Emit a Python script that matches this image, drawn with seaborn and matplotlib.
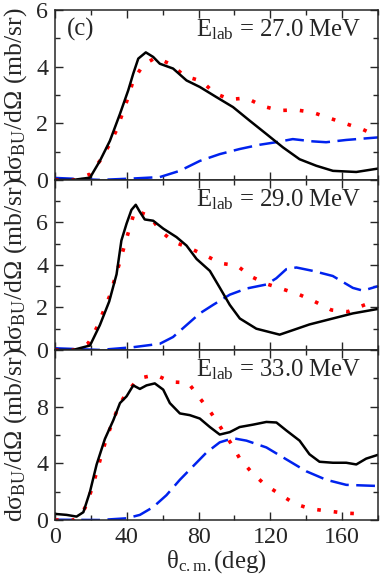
import numpy as np
import pandas as pd
import matplotlib
matplotlib.use('Agg')
import matplotlib.pyplot as plt
import seaborn as sns

# ---- data (theta in deg, cross section in mb/sr) ----
# panel E_lab = 27.0 MeV
x27_full = [0, 10, 19.5, 25, 30.6, 36.2, 40.8, 43.6, 46.4, 50.6, 54.7, 58.4, 65.8, 73.3, 80.7,
            90, 99.2, 108.5, 117.8, 127, 136.3, 145.6, 154.9, 167.9, 180]
y27_full = [0, 0, 0.08, 0.67, 1.38, 2.33, 3.16, 3.75, 4.28, 4.5, 4.34, 4.1, 3.93, 3.51, 3.28,
            2.92, 2.57, 2.09, 1.62, 1.15, 0.73, 0.5, 0.32, 0.28, 0.4]
x27_nocpl = [0, 10.6, 19.5, 25, 30.2, 34.3, 37.5, 40.8, 43.6, 49.1, 56.2, 64.9, 72.3, 81.6,
             89, 97.4, 106.7, 115.9, 125.2, 134.5, 143.7, 153, 162.3, 171.6, 176]
y27_nocpl = [0, 0, 0.2, 0.67, 1.23, 1.76, 2.33, 2.92, 3.51, 4.05, 4.32, 4.07, 3.66, 3.49,
             3.06, 2.84, 2.89, 2.6, 2.45, 2.47, 2.38, 2.18, 1.98, 1.78, 1.65]
x27_nuc = [0, 25, 43.6, 58.4, 69.5, 80.7, 91.8, 102.9, 114, 123.2, 132.5, 143.7, 151.1, 162.3, 180]
y27_nuc = [0.07, 0.0, 0.05, 0.1, 0.32, 0.67, 0.91, 1.09, 1.24, 1.33, 1.44, 1.36, 1.33, 1.41, 1.5]

# panel E_lab = 29.0 MeV
x29_full = [0, 10, 19.5, 25, 30.2, 34.3, 37, 39.9, 42.6, 45, 47.2, 50, 54.7, 60.3, 67.7, 73.3,
            78.9, 86.3, 91.9, 97.4, 103, 112.2, 125.2, 132.5, 141.8, 154.8, 166, 180]
y29_full = [0, 0, 0.21, 1.17, 2.28, 3.56, 5.15, 5.95, 6.59, 6.83, 6.51, 6.14, 6.08, 5.71, 5.31,
            4.91, 4.28, 3.72, 2.92, 2.12, 1.48, 1.0, 0.72, 0.93, 1.2, 1.48, 1.72, 1.93]
x29_nocpl = [0, 10.6, 18.6, 23.2, 26.9, 30.6, 33.4, 36.2, 39, 44.5, 52.9, 58.4, 65.8, 75.1,
             84.4, 92.8, 101.4, 109.4, 117.8, 127, 136.3, 144.7, 154, 163.2, 172.5, 178]
y29_nocpl = [0, 0, 0.32, 1.04, 1.8, 2.57, 3.37, 4.16, 5.0, 6.56, 6.3, 5.63, 5.1, 4.79,
             4.42, 4.07, 3.97, 3.45, 3.11, 2.86, 2.6, 2.28, 1.88, 1.8, 2.12, 2.3]
x29_nuc = [0, 25, 43.6, 58.4, 65.8, 73.3, 80.7, 88.1, 97.4, 106.7, 117.8, 123.3, 128.9, 134.5,
           143.7, 154.8, 166, 171.6, 180]
y29_nuc = [0.08, 0.0, 0.13, 0.29, 0.61, 1.17, 1.72, 2.12, 2.6, 2.89, 3.08, 3.37, 3.8, 3.88,
           3.72, 3.48, 2.92, 2.79, 3.0]

# panel E_lab = 33.0 MeV
x33_full = [0, 6.5, 12, 15.8, 19.5, 23.2, 27.8, 32.5, 36.2, 39.9, 43.6, 47.3, 51, 55.6, 60.3,
            64, 69.6, 75.1, 80.7, 86.3, 91.8, 97.4, 102.9, 110.4, 117.8, 123.4, 128.9, 136.3,
            141.8, 147.4, 154.9, 162.3, 167.9, 173.4, 180]
y33_full = [0.43, 0.36, 0.24, 0.55, 2.0, 3.92, 5.72, 7.04, 8.25, 8.73, 9.5, 9.25, 9.5, 9.64, 9.2,
            8.25, 7.52, 7.4, 7.16, 6.56, 6.03, 6.2, 6.56, 6.73, 6.92, 6.88, 6.32, 5.6,
            4.64, 4.11, 4.04, 4.04, 3.92, 4.33, 4.6]
x33_nocpl = [0, 10.6, 16.7, 20, 22.8, 25.6, 28.4, 31.7, 35.2, 39.9, 46.7, 56, 64.9, 74.2, 80.7,
             87.2, 92.8, 98.3, 102.9, 109.4, 116.9, 125.2, 133.5, 142.3, 152.1, 162.3, 171.6]
y33_nocpl = [0, 0, 0.84, 2.0, 3.2, 4.45, 5.65, 6.8, 7.95, 9.0, 10.0, 10.24, 9.74, 9.69, 8.6,
             7.52, 6.44, 5.36, 4.35, 3.39, 2.5, 1.83, 1.15, 0.79, 0.63, 0.48, 0.43]
x33_nuc = [0, 25, 39.9, 47.3, 54.7, 62.1, 69.6, 77, 84.4, 91.8, 99.2, 106.7, 117.8, 128.9, 140,
           151.1, 162.3, 180]
y33_nuc = [0.02, 0.0, 0.12, 0.36, 0.91, 1.75, 2.84, 3.8, 4.76, 5.48, 5.77, 5.6, 5.12, 4.28, 3.44,
           2.84, 2.48, 2.4]

energies = ['27.0', '29.0', '33.0']
ylims = [6, 8, 12]
ymajor = [2, 2, 4]
xticklabels = ['0', '40', '80', '120', '160']
panels = [
    (x27_full, y27_full, x27_nocpl, y27_nocpl, x27_nuc, y27_nuc),
    (x29_full, y29_full, x29_nocpl, y29_nocpl, x29_nuc, y29_nuc),
    (x33_full, y33_full, x33_nocpl, y33_nocpl, x33_nuc, y33_nuc),
]

sns.set_style('ticks')
plt.rcParams['font.family'] = ['Liberation Serif', 'DejaVu Serif']
plt.rcParams['mathtext.fontset'] = 'custom'
plt.rcParams['mathtext.rm'] = 'Liberation Serif'
plt.rcParams['mathtext.it'] = 'Liberation Serif:italic'

fs_tick = 17.3
fs_txt = 17.8
fig = plt.figure(figsize=(3.82, 5.81), dpi=100)
gs = fig.add_gridspec(3, 1, left=0.144, right=0.9895, top=0.983, bottom=0.105, hspace=0)

ylab = 'dσ$_\\mathregular{BU}$/dΩ (mb/sr)'

for i, (xf, yf, xn, yn, xc, yc) in enumerate(panels):
    ax = fig.add_subplot(gs[i, 0])
    # dashed blue, dotted red, solid black
    sns.lineplot(x=xc, y=yc, ax=ax, color='#0022ee', lw=1.8,
                 linestyle=(0, (7.5, 3)), sort=False, errorbar=None)
    sns.lineplot(x=xn, y=yn, ax=ax, color='#ff0000', lw=2.6,
                 linestyle=(0, (1, 3.6)), sort=False, errorbar=None)
    sns.lineplot(x=xf, y=yf, ax=ax, color='black', lw=1.8, sort=False, errorbar=None)

    ax.set_xlim(0, 180)
    ax.set_ylim(0, ylims[i])
    ax.set_xticks(np.arange(0, 161, 40))
    ax.set_xticks(np.arange(20, 181, 40), minor=True)
    yt = np.arange(0, ylims[i] + 0.1, ymajor[i])
    ax.set_yticks(yt)
    ax.set_yticks(np.arange(ymajor[i] / 2, ylims[i], ymajor[i]), minor=True)
    ax.tick_params(which='both', direction='in', top=True, right=True, width=1.0,
                   labelsize=fs_tick, pad=5)
    ax.tick_params(which='major', length=6)
    ax.tick_params(which='minor', length=3.5)
    for s in ax.spines.values():
        s.set_linewidth(1.1)

    ylabels = ['%d' % v for v in yt]
    if i > 0:
        ylabels[-1] = ''  # top label hidden where panels touch
    ax.set_yticklabels(ylabels)
    if i < 2:
        ax.set_xticklabels([])
        ax.set_xlabel('')
    else:
        ax.set_xticklabels(xticklabels)
        ax.set_xlabel('θ$_\\mathregular{c.m.}$(deg)', fontsize=fs_txt, labelpad=0)
    ax.set_ylabel(ylab, fontsize=18.5, labelpad=5)

    ax.text(0.95, 0.955, 'E$_\\mathregular{lab}$ = %s MeV' % energies[i],
            transform=ax.transAxes, ha='right', va='top', fontsize=fs_txt)
    if i == 0:
        ax.text(0.037, 0.955, '(c)', transform=ax.transAxes, ha='left', va='top',
                fontsize=fs_txt)

fig.savefig('out.png', dpi=100)
